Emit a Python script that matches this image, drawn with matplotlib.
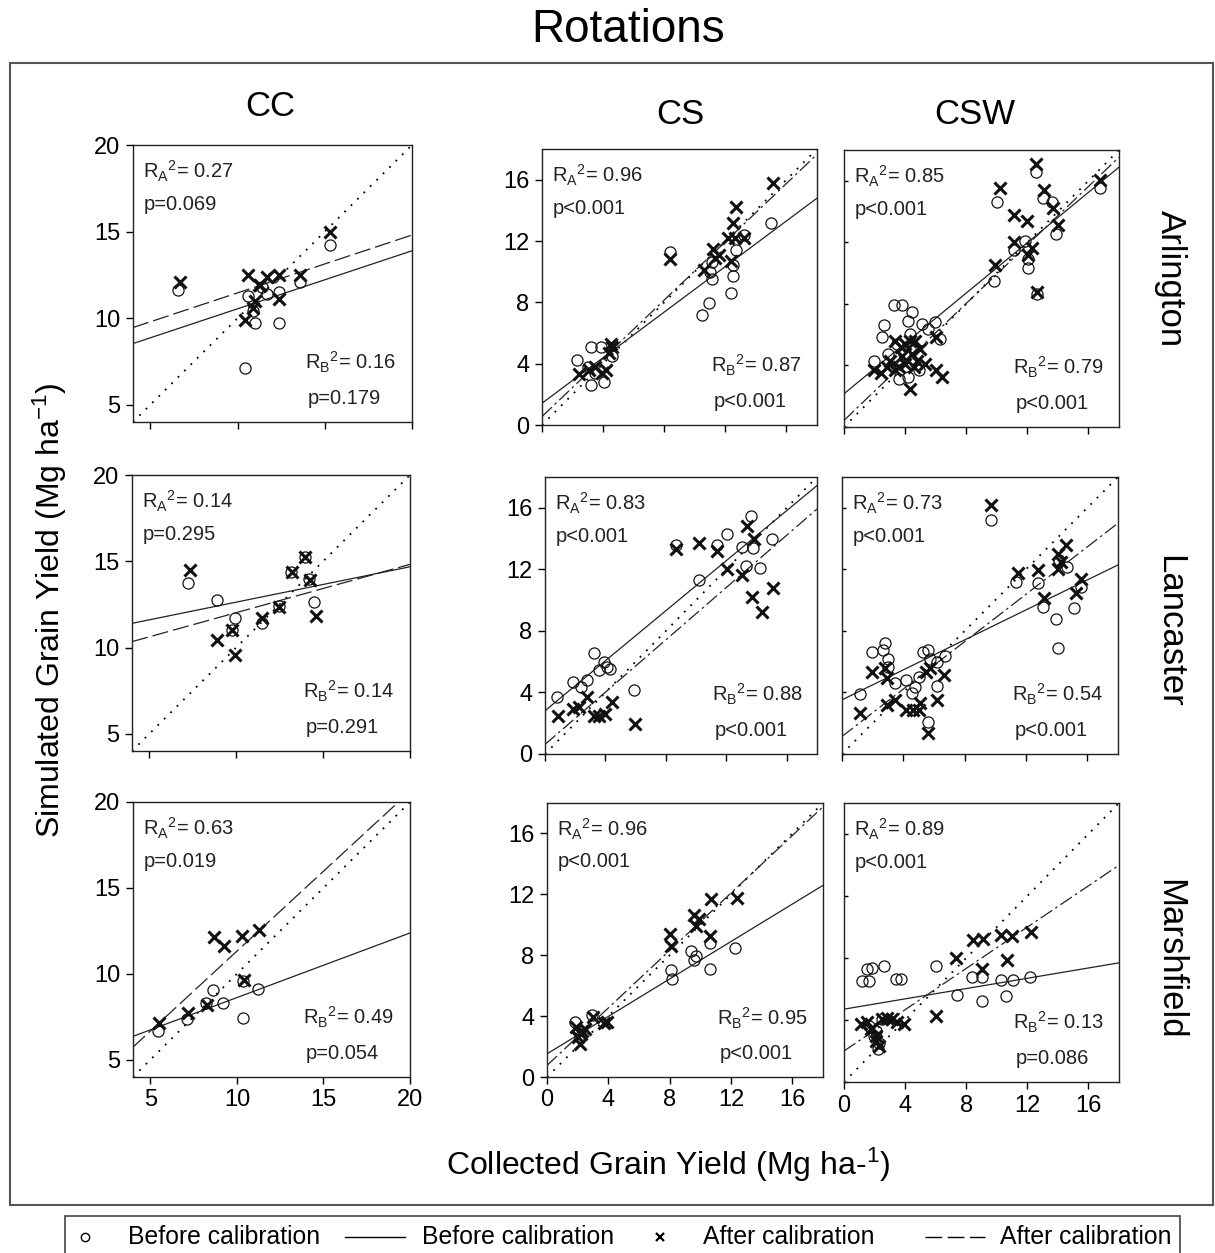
import numpy as np
import matplotlib
matplotlib.use("Agg")
import matplotlib.pyplot as plt
from matplotlib import font_manager
from matplotlib.patches import Rectangle
from matplotlib.lines import Line2D

plt.rcParams['font.family'] = ['Liberation Sans', 'DejaVu Sans']
plt.rcParams['mathtext.default'] = 'regular'

sites = ["Arlington", "Lancaster", "Marshfield"]
rotations = ["CC", "CS", "CSW"]

# ---- data (before = circles, after = crosses) ----
cc_arl_bx = [6.6, 10.6, 11.0, 10.4, 12.35, 11.7, 12.4, 10.9, 13.6, 15.3, 11.4, 12.05]
cc_arl_by = [11.65, 11.3, 9.7, 7.1, 9.7, 11.4, 11.5, 10.4, 12.1, 14.2, 11.8, 12.4]
cc_arl_ax = [6.7, 15.3, 10.6, 11.7, 12.4, 13.6, 11.2, 11.0, 10.9, 10.4, 12.4, 11.3]
cc_arl_ay = [12.1, 15.0, 12.5, 12.4, 12.5, 12.5, 11.9, 11.0, 10.6, 9.9, 11.1, 11.9]

cs_arl_bx = [2.26, 3.2, 3.2, 4.07, 3.85, 3.0, 3.5, 4.6, 8.4, 10.5, 10.96, 11.1, 11.0, 12.4,
             12.5, 12.7, 13.2, 15.0, 12.5, 11.1]
cs_arl_by = [4.25, 5.1, 2.6, 2.8, 5.1, 3.8, 3.4, 4.5, 11.26, 7.2, 7.95, 9.5, 10.0, 8.6,
             9.7, 11.4, 12.4, 13.2, 10.45, 10.6]
cs_arl_ax = [2.4, 3.1, 3.5, 3.95, 4.2, 4.5, 4.6, 4.4, 8.4, 10.6, 11.2, 11.6, 11.35, 12.4,
             12.5, 12.7, 12.65, 13.2, 12.2, 15.15]
cs_arl_ay = [3.3, 3.6, 3.8, 3.4, 3.6, 5.3, 5.1, 4.7, 10.8, 10.1, 11.5, 11.1, 10.9, 10.7,
             13.2, 14.2, 12.2, 12.2, 12.2, 15.8]

csw_arl_bx = [10.0, 12.55, 16.75, 13.05, 13.6, 13.9, 11.1, 11.85, 12.05, 12.05, 9.8, 12.6,
              3.25, 3.8, 4.45, 4.2, 2.6, 2.5, 5.1, 5.95, 6.3, 5.5, 1.95, 3.6, 4.2, 4.9,
              3.5, 4.3, 3.9, 2.9]
csw_arl_by = [14.6, 16.6, 15.5, 14.9, 14.6, 12.55, 11.5, 12.1, 10.9, 10.3, 9.5, 8.65,
              7.9, 7.9, 7.45, 6.9, 6.6, 5.85, 6.7, 6.8, 5.7, 6.4, 4.3, 3.15, 3.25, 3.7,
              5.4, 6.05, 4.75, 4.75]
csw_arl_ax = [12.55, 10.2, 13.1, 16.75, 13.7, 14.0, 11.1, 11.95, 11.1, 12.3, 12.05, 9.9,
              12.6, 1.95, 2.8, 3.35, 3.7, 4.35, 4.45, 4.75, 4.0, 3.35, 5.3, 6.0, 6.4,
              4.35, 6.0, 4.65, 4.0, 3.0, 3.8, 4.6, 5.0, 2.4, 3.6]
csw_arl_ay = [17.1, 15.5, 15.4, 16.05, 14.2, 13.1, 13.75, 13.4, 12.0, 11.6, 11.15, 10.5,
              8.75, 3.7, 3.9, 3.7, 5.2, 5.6, 4.75, 4.3, 4.1, 5.6, 4.1, 3.7, 3.25,
              2.5, 5.85, 5.6, 5.4, 4.3, 4.6, 3.9, 5.1, 3.5, 3.9]

cc_lan_bx = [7.23, 8.88, 9.95, 11.5, 12.48, 13.15, 13.93, 14.2, 14.5, 9.76]
cc_lan_by = [13.76, 12.76, 11.7, 11.4, 12.4, 14.4, 15.27, 14.0, 12.66, 11.0]
cc_lan_ax = [7.33, 8.88, 9.76, 9.95, 11.5, 12.48, 13.2, 13.97, 14.22, 14.6]
cc_lan_ay = [14.5, 10.44, 11.0, 9.57, 11.7, 12.37, 14.4, 15.27, 13.9, 11.8]

cs_lan_bx = [0.8, 1.83, 2.77, 3.25, 3.57, 3.9, 4.33, 4.07, 2.37, 5.86, 8.7, 10.2, 11.35,
             12.07, 13.05, 13.6, 13.75, 13.3, 14.25, 15.0]
cs_lan_by = [3.7, 4.68, 4.84, 6.58, 5.45, 6.0, 5.5, 5.66, 4.36, 4.18, 13.55, 11.33, 13.6,
             14.3, 13.44, 15.47, 13.4, 12.2, 12.1, 14.0]
cs_lan_ax = [0.85, 1.83, 2.27, 2.8, 3.25, 3.57, 3.94, 4.44, 5.97, 8.7, 10.2, 11.4, 12.07,
             13.05, 13.38, 13.8, 13.7, 14.36, 15.12]
cs_lan_ay = [2.5, 2.94, 3.05, 3.7, 2.5, 2.5, 2.6, 3.38, 1.96, 13.33, 13.73, 13.2, 12.0,
             11.66, 14.8, 14.0, 10.17, 9.2, 10.78]

csw_lan_bx = [9.74, 1.15, 1.95, 2.7, 2.8, 2.97, 3.0, 4.2, 4.55, 4.76, 5.0, 5.3, 5.63, 5.74,
              6.17, 6.2, 6.7, 5.63, 3.46, 11.36, 12.77, 13.1, 13.96, 14.07, 14.7, 14.18,
              15.15, 15.58]
csw_lan_by = [15.2, 3.9, 6.65, 6.76, 7.2, 6.2, 5.68, 4.8, 3.95, 4.38, 5.0, 6.65, 6.76, 6.2,
              6.0, 4.4, 6.4, 2.1, 4.6, 11.2, 11.1, 9.57, 8.8, 6.87, 12.16, 12.6,
              9.46, 10.86]
csw_lan_ax = [9.74, 1.15, 1.95, 2.8, 2.92, 2.92, 3.46, 4.2, 4.65, 5.0, 5.1, 5.5, 5.74, 6.65,
              6.17, 5.63, 11.47, 12.77, 13.2, 14.07, 14.28, 14.6, 15.26, 15.58, 14.07]
csw_lan_ay = [16.15, 2.66, 5.36, 5.57, 4.92, 3.2, 3.52, 2.87, 2.87, 2.87, 3.3, 5.36, 5.57,
              5.14, 3.52, 1.36, 11.73, 11.94, 10.15, 13.0, 12.48, 13.56, 10.43, 11.4, 12.05]

cc_mar_bx = [5.42, 7.12, 8.23, 8.62, 9.19, 10.38, 10.38, 11.21]
cc_mar_by = [6.68, 7.35, 8.32, 9.09, 8.32, 7.45, 9.58, 9.13]
cc_mar_ax = [5.48, 7.15, 8.27, 8.65, 9.23, 10.29, 10.42, 11.25]
cc_mar_ay = [7.16, 7.74, 8.17, 12.12, 11.6, 12.22, 9.67, 12.57]

cs_mar_bx = [1.85, 2.0, 2.13, 2.95, 8.07, 8.13, 9.38, 9.7, 10.64, 10.64, 12.24, 9.6]
cs_mar_by = [3.6, 3.05, 2.6, 4.1, 7.0, 6.43, 8.28, 7.95, 7.08, 8.82, 8.5, 7.7]
cs_mar_ax = [1.9, 2.13, 2.24, 2.5, 3.0, 3.74, 3.9, 8.0, 8.07, 9.6, 9.7, 9.93, 10.7, 10.64,
             12.4, 2.0, 2.3]
cs_mar_ay = [3.27, 2.18, 2.83, 3.16, 3.92, 3.53, 3.6, 9.37, 8.6, 10.63, 9.91, 10.35, 11.72,
             9.26, 11.76, 2.6, 3.0]

csw_mar_bx = [1.2, 1.64, 1.53, 1.86, 2.62, 3.38, 3.71, 6.0, 7.42, 8.41, 9.06, 9.06, 10.26,
              10.6, 11.03, 12.18, 1.64, 1.97, 2.29, 2.25, 2.07, 2.5]
csw_mar_by = [6.53, 6.53, 7.28, 7.33, 7.5, 6.64, 6.64, 7.5, 5.6, 6.75, 6.75, 5.24, 6.6,
              5.56, 6.6, 6.75, 3.62, 2.97, 2.54, 2.11, 3.3, 4.05]
csw_mar_ax = [7.31, 8.45, 9.1, 10.26, 10.98, 12.23, 10.7, 9.06, 6.0, 1.09, 1.53, 1.86, 2.51,
              2.84, 3.17, 3.49, 3.93, 2.07, 2.29, 2.07, 1.75]
csw_mar_ay = [7.97, 9.16, 9.22, 9.48, 9.44, 9.7, 7.89, 7.28, 4.27, 3.73, 3.84, 3.51, 4.05,
              4.16, 4.05, 3.84, 3.73, 2.97, 2.33, 2.65, 3.4]

# regression lines (intercept, slope)
fit_before = [[(7.19, 0.335), (1.42, 0.743), (2.16, 0.818)],
              [(10.58, 0.205), (2.81, 0.813), (3.52, 0.487)],
              [(4.86, 0.376), (1.52, 0.615), (4.70, 0.166)]]
fit_after = [[(8.12, 0.334), (0.55, 0.95), (0.43, 0.95)],
             [(9.22, 0.28), (0.62, 0.85), (1.14, 0.77)],
             [(2.02, 0.93), (0.76, 0.944), (2.00, 0.666)]]

ra2 = [["0.27", "0.96", "0.85"], ["0.14", "0.83", "0.73"], ["0.63", "0.96", "0.89"]]
pa = [["p=0.069", "p<0.001", "p<0.001"], ["p=0.295", "p<0.001", "p<0.001"],
      ["p=0.019", "p<0.001", "p<0.001"]]
rb2 = [["0.16", "0.87", "0.79"], ["0.14", "0.88", "0.54"], ["0.49", "0.95", "0.13"]]
pb = [["p=0.179", "p<0.001", "p<0.001"], ["p=0.291", "p<0.001", "p<0.001"],
      ["p=0.054", "p<0.001", "p=0.086"]]

points = [
    [(cc_arl_bx, cc_arl_by, cc_arl_ax, cc_arl_ay), (cs_arl_bx, cs_arl_by, cs_arl_ax, cs_arl_ay),
     (csw_arl_bx, csw_arl_by, csw_arl_ax, csw_arl_ay)],
    [(cc_lan_bx, cc_lan_by, cc_lan_ax, cc_lan_ay), (cs_lan_bx, cs_lan_by, cs_lan_ax, cs_lan_ay),
     (csw_lan_bx, csw_lan_by, csw_lan_ax, csw_lan_ay)],
    [(cc_mar_bx, cc_mar_by, cc_mar_ax, cc_mar_ay), (cs_mar_bx, cs_mar_by, cs_mar_ax, cs_mar_ay),
     (csw_mar_bx, csw_mar_by, csw_mar_ax, csw_mar_ay)],
]

# ---- layout (pixel boxes: left, top, right, bottom) ----
W, H = 1215, 1253
boxes = [[(133, 145, 412, 422), (542, 149, 817, 425), (844, 150, 1119, 427)],
         [(132, 475, 410, 751), (545, 477, 817, 754), (842, 477, 1118, 754)],
         [(133, 802, 410, 1077), (547, 803, 823, 1077), (844, 803, 1119, 1082)]]

fig = plt.figure(figsize=(W / 100, H / 100), dpi=100)

txt_col = '#222222'
for i in range(3):
    for j in range(3):
        l, t, r, b = boxes[i][j]
        ax = fig.add_axes([l / W, 1 - b / H, (r - l) / W, (b - t) / H])
        lim = (4, 20) if j == 0 else (0, 18)
        ax.set_xlim(lim)
        ax.set_ylim(lim)
        xs = np.array(lim, dtype=float)
        ax.plot(xs, xs, color='k', lw=1.3, linestyle=(0, (1, 4)))
        b0, b1 = fit_before[i][j]
        ax.plot(xs, b0 + b1 * xs, color='#222222', lw=0.9)
        a0, a1 = fit_after[i][j]
        dash = (0, (13, 4)) if j == 0 else (0, (11, 3, 2, 3))
        ax.plot(xs, a0 + a1 * xs, color='#222222', lw=0.9, linestyle=dash)
        bx, by, axx, ayy = points[i][j]
        ax.plot(bx, by, 'o', mfc='none', mec='#111111', ms=8, mew=0.9, zorder=3)
        ax.plot(axx, ayy, 'x', color='#111111', ms=9, mew=2.2, zorder=4)

        ticks = [5, 10, 15, 20] if j == 0 else [0, 4, 8, 12, 16]
        ax.set_xticks(ticks)
        ax.set_yticks(ticks)
        ax.tick_params(direction='out', length=5, width=1, labelsize=17, pad=4)
        if i < 2:
            ax.tick_params(labelbottom=False)
        if j == 2:
            ax.tick_params(axis='y', labelleft=False, direction='in', length=3)
        for s in ax.spines.values():
            s.set_linewidth(1.0)
            s.set_color('#222222')

        fs = 14.5
        ax.text(0.035, 0.905, r"R$_A$$^2$= " + ra2[i][j], transform=ax.transAxes,
                fontsize=fs, va='center', color=txt_col)
        ax.text(0.04, 0.785, pa[i][j], transform=ax.transAxes,
                fontsize=fs, va='center', color=txt_col)
        ax.text(0.615, 0.215, r"R$_B$$^2$= " + rb2[i][j], transform=ax.transAxes,
                fontsize=fs, va='center', color=txt_col)
        ax.text(0.625, 0.085, pb[i][j], transform=ax.transAxes,
                fontsize=fs, va='center', color=txt_col)

# ---- titles and labels ----
fig.text(628 / W, 1 - 30 / H, "Rotations", ha='center', va='center', fontsize=33)
for name, (x, y) in zip(rotations, [(270, 107), (680, 115), (975, 115)]):
    fig.text(x / W, 1 - y / H, name, ha='center', va='center', fontsize=25)
for name, y in zip(sites, [279, 631, 959]):
    fig.text(1170 / W, 1 - y / H, name, ha='center', va='center', fontsize=25, rotation=-90)
fig.text(50 / W, 1 - 610 / H, "Simulated Grain Yield (Mg ha$^{-1}$)", ha='center', va='center',
         fontsize=23, rotation=90)
fig.text(668 / W, 1 - 1165 / H, "Collected Grain Yield (Mg ha-$^{1}$)", ha='center', va='center',
         fontsize=23)

# outer frame
fig.add_artist(Rectangle((10 / W, 1 - 1205 / H), (1213 - 10) / W, (1205 - 63) / H,
                         transform=fig.transFigure, fill=False, ec='#555555', lw=1.5))

# ---- legend ----
try:
    font_manager.findfont("Liberation Sans Narrow", fallback_to_default=False)
    leg_font, leg_size = ["Liberation Sans Narrow", "Liberation Sans"], 21
except ValueError:
    leg_font, leg_size = ["Liberation Sans", "DejaVu Sans"], 17.8

fig.add_artist(Rectangle((65 / W, 1 - 1270 / H), (1180 - 65) / W, (1270 - 1216) / H,
                         transform=fig.transFigure, fill=False, ec='#444444', lw=1.2,
                         clip_on=False))
yc = 1 - 1237 / H
fig.add_artist(Line2D([85 / W], [yc], marker='o', mfc='none', mec='k', ms=6, mew=1.0,
                      transform=fig.transFigure))
fig.add_artist(Line2D([345 / W, 405 / W], [yc, yc], color='k', lw=1.0,
                      transform=fig.transFigure))
fig.add_artist(Line2D([660 / W], [yc], marker='x', color='k', ms=6, mew=1.6,
                      transform=fig.transFigure))
fig.add_artist(Line2D([925 / W, 985 / W], [yc, yc], color='k', lw=1.0,
                      linestyle=(0, (12, 4)), transform=fig.transFigure))
for x, label in zip([128, 422, 703, 1000],
                    ["Before calibration", "Before calibration", "After calibration",
                     "After calibration"]):
    fig.text(x / W, yc, label, ha='left', va='center', fontsize=leg_size, family=leg_font)

fig.savefig("out.png", dpi=100)
